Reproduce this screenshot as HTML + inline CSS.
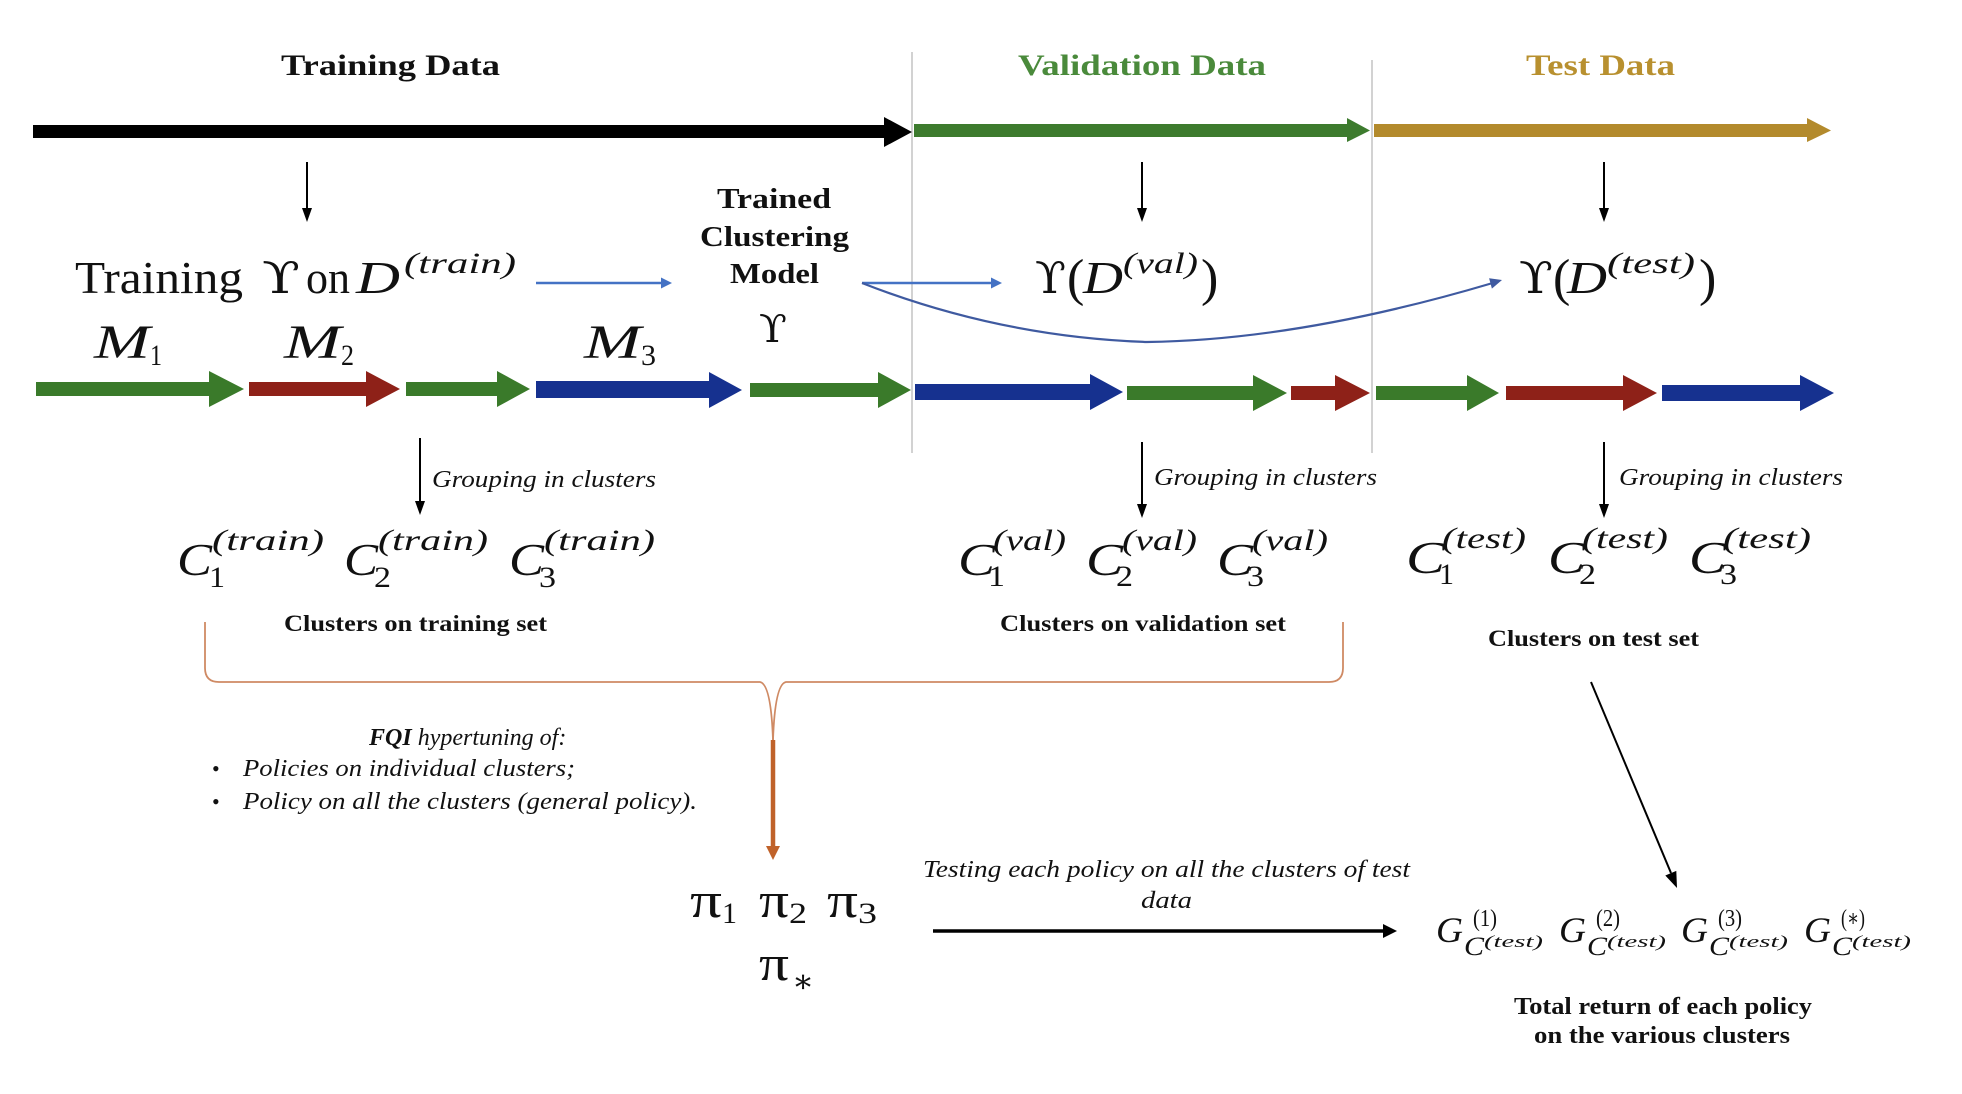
<!DOCTYPE html>
<html><head><meta charset="utf-8"><style>
html,body{margin:0;padding:0;background:#fff;}
svg{display:block}
text{font-family:"Liberation Serif","DejaVu Serif",serif;fill:#111;}
.b{font-weight:bold}
.i{font-style:italic}
.u{font-family:"DejaVu Serif","Liberation Serif",serif;}
</style></head><body>
<svg width="1962" height="1094" viewBox="0 0 1962 1094" xmlns="http://www.w3.org/2000/svg">
<rect width="1962" height="1094" fill="#fff"/>

<!-- dividers -->
<line x1="912" y1="52" x2="912" y2="453" stroke="#c4c4c4" stroke-width="1.5"/>
<line x1="1372" y1="60" x2="1372" y2="453" stroke="#c4c4c4" stroke-width="1.5"/>

<!-- titles -->
<text class="b" x="281" y="75" font-size="30" textLength="219" lengthAdjust="spacingAndGlyphs">Training Data</text>
<text class="b" x="1018" y="75" font-size="30" textLength="248" lengthAdjust="spacingAndGlyphs" style="fill:#4a8a3b">Validation Data</text>
<text class="b" x="1526" y="75" font-size="30" textLength="149" lengthAdjust="spacingAndGlyphs" style="fill:#b8902f">Test Data</text>

<!-- top timeline arrows -->
<polygon points="33,125 884,125 884,117 912,132 884,147 884,138 33,138" fill="#000"/>
<polygon points="914,124 1347,124 1347,118 1370,130.5 1347,142 1347,137 914,137" fill="#3d7b2e"/>
<polygon points="1374,124 1807,124 1807,118 1831,130.5 1807,142 1807,137 1374,137" fill="#b38a2c"/>

<!-- down arrows -->
<g stroke="#000" stroke-width="2">
<line x1="307" y1="162" x2="307" y2="210"/>
<line x1="1142" y1="162" x2="1142" y2="210"/>
<line x1="1604" y1="162" x2="1604" y2="210"/>
<line x1="420" y1="438" x2="420" y2="503"/>
<line x1="1142" y1="442" x2="1142" y2="506"/>
<line x1="1604" y1="442" x2="1604" y2="506"/>
</g>
<g fill="#000">
<polygon points="302,208 312,208 307,222"/>
<polygon points="1137,208 1147,208 1142,222"/>
<polygon points="1599,208 1609,208 1604,222"/>
<polygon points="415,501 425,501 420,515"/>
<polygon points="1137,504 1147,504 1142,518"/>
<polygon points="1599,504 1609,504 1604,518"/>
</g>

<!-- Training Upsilon on D(train) -->
<text x="75" y="293" font-size="46" textLength="168" lengthAdjust="spacingAndGlyphs">Training</text>
<text class="u" x="262" y="293" font-size="44" textLength="38" lengthAdjust="spacingAndGlyphs">ϒ</text>
<text x="306" y="293" font-size="46" textLength="44" lengthAdjust="spacingAndGlyphs">on</text>
<text class="i" x="356" y="293" font-size="46" textLength="44" lengthAdjust="spacingAndGlyphs">D</text>
<text class="i" x="404" y="273" font-size="30" textLength="112" lengthAdjust="spacingAndGlyphs">(train)</text>

<!-- blue arrows -->
<g stroke="#4472c4" stroke-width="2.5" fill="none">
<line x1="536" y1="283" x2="664" y2="283"/>
<line x1="862" y1="283" x2="994" y2="283"/>
</g>
<polygon points="661,277.5 672,283 661,288.5" fill="#4472c4"/>
<polygon points="991,277.5 1002,283 991,288.5" fill="#4472c4"/>
<path d="M862,283 Q1000,337 1147,342 Q1300,340 1491,283.5" stroke="#3f5aa0" stroke-width="2.2" fill="none"/>
<polygon points="1502,280 1491.9,288.6 1489.1,278.2" fill="#3f5aa0"/>

<!-- Trained Clustering Model -->
<text class="b" x="717" y="208" font-size="29" textLength="114" lengthAdjust="spacingAndGlyphs">Trained</text>
<text class="b" x="700" y="246" font-size="29" textLength="149" lengthAdjust="spacingAndGlyphs">Clustering</text>
<text class="b" x="730" y="283" font-size="29" textLength="89" lengthAdjust="spacingAndGlyphs">Model</text>
<text class="u" x="759" y="342" font-size="38" textLength="28" lengthAdjust="spacingAndGlyphs">ϒ</text>

<!-- M labels -->
<text class="i" x="94" y="358" font-size="48" textLength="56" lengthAdjust="spacingAndGlyphs">M</text>
<text x="150" y="365" font-size="30" textLength="12" lengthAdjust="spacingAndGlyphs">1</text>
<text class="i" x="284" y="358" font-size="48" textLength="57" lengthAdjust="spacingAndGlyphs">M</text>
<text x="341" y="365" font-size="30" textLength="13" lengthAdjust="spacingAndGlyphs">2</text>
<text class="i" x="584" y="358" font-size="48" textLength="57" lengthAdjust="spacingAndGlyphs">M</text>
<text x="641" y="365" font-size="30" textLength="15" lengthAdjust="spacingAndGlyphs">3</text>

<!-- Upsilon(D(val)) -->
<text class="u" x="1035" y="293" font-size="44" textLength="31" lengthAdjust="spacingAndGlyphs">ϒ</text>
<text x="1067" y="295" font-size="52">(</text>
<text class="i" x="1083" y="293" font-size="46" textLength="40" lengthAdjust="spacingAndGlyphs">D</text>
<text class="i" x="1123" y="273" font-size="30" textLength="75" lengthAdjust="spacingAndGlyphs">(val)</text>
<text x="1201" y="295" font-size="52">)</text>
<!-- Upsilon(D(test)) -->
<text class="u" x="1519" y="293" font-size="44" textLength="34" lengthAdjust="spacingAndGlyphs">ϒ</text>
<text x="1553" y="295" font-size="52">(</text>
<text class="i" x="1567" y="293" font-size="46" textLength="40" lengthAdjust="spacingAndGlyphs">D</text>
<text class="i" x="1607" y="273" font-size="30" textLength="88" lengthAdjust="spacingAndGlyphs">(test)</text>
<text x="1699" y="295" font-size="52">)</text>

<!-- coloured segment row -->
<g>
<polygon points="36,382 209,382 209,371 244,389 209,407 209,396 36,396" fill="#3a7a2a"/>
<polygon points="249,382 366,382 366,371 400,389 366,407 366,396 249,396" fill="#8e2118"/>
<polygon points="406,382 497,382 497,371 530,389 497,407 497,396 406,396" fill="#3a7a2a"/>
<polygon points="536,381 709,381 709,372 742,390 709,408 709,398 536,398" fill="#16318f"/>
<polygon points="750,383 878,383 878,372 911,390 878,408 878,397 750,397" fill="#3a7a2a"/>
<polygon points="915,384 1090,384 1090,374 1123,392 1090,410 1090,400 915,400" fill="#16318f"/>
<polygon points="1127,386 1253,386 1253,375 1287,393 1253,411 1253,400 1127,400" fill="#3a7a2a"/>
<polygon points="1291,386 1335,386 1335,375 1370,393 1335,411 1335,400 1291,400" fill="#8e2118"/>
<polygon points="1376,386 1467,386 1467,375 1499,393 1467,411 1467,400 1376,400" fill="#3a7a2a"/>
<polygon points="1506,386 1623,386 1623,375 1657,393 1623,411 1623,400 1506,400" fill="#8e2118"/>
<polygon points="1662,385 1800,385 1800,375 1834,393 1800,411 1800,401 1662,401" fill="#16318f"/>
</g>

<!-- Grouping in clusters -->
<text class="i" x="432" y="487" font-size="24" textLength="224" lengthAdjust="spacingAndGlyphs">Grouping in clusters</text>
<text class="i" x="1154" y="485" font-size="24" textLength="223" lengthAdjust="spacingAndGlyphs">Grouping in clusters</text>
<text class="i" x="1619" y="485" font-size="24" textLength="224" lengthAdjust="spacingAndGlyphs">Grouping in clusters</text>

<!-- C train -->
<g>
<text class="i" x="177" y="575" font-size="46" textLength="35" lengthAdjust="spacingAndGlyphs">C</text>
<text class="i" x="212" y="550" font-size="30" textLength="112" lengthAdjust="spacingAndGlyphs">(train)</text>
<text x="209" y="587" font-size="30" textLength="16" lengthAdjust="spacingAndGlyphs">1</text>
<text class="i" x="344" y="575" font-size="46" textLength="34" lengthAdjust="spacingAndGlyphs">C</text>
<text class="i" x="378" y="550" font-size="30" textLength="110" lengthAdjust="spacingAndGlyphs">(train)</text>
<text x="374" y="587" font-size="30" textLength="17" lengthAdjust="spacingAndGlyphs">2</text>
<text class="i" x="509" y="575" font-size="46" textLength="35" lengthAdjust="spacingAndGlyphs">C</text>
<text class="i" x="544" y="550" font-size="30" textLength="111" lengthAdjust="spacingAndGlyphs">(train)</text>
<text x="539" y="587" font-size="30" textLength="17" lengthAdjust="spacingAndGlyphs">3</text>
</g>
<!-- C val -->
<g>
<text class="i" x="958" y="575" font-size="46" textLength="37" lengthAdjust="spacingAndGlyphs">C</text>
<text class="i" x="993" y="550" font-size="30" textLength="73" lengthAdjust="spacingAndGlyphs">(val)</text>
<text x="988" y="586" font-size="30" textLength="17" lengthAdjust="spacingAndGlyphs">1</text>
<text class="i" x="1086" y="575" font-size="46" textLength="37" lengthAdjust="spacingAndGlyphs">C</text>
<text class="i" x="1122" y="550" font-size="30" textLength="75" lengthAdjust="spacingAndGlyphs">(val)</text>
<text x="1116" y="586" font-size="30" textLength="17" lengthAdjust="spacingAndGlyphs">2</text>
<text class="i" x="1217" y="575" font-size="46" textLength="36" lengthAdjust="spacingAndGlyphs">C</text>
<text class="i" x="1252" y="550" font-size="30" textLength="76" lengthAdjust="spacingAndGlyphs">(val)</text>
<text x="1247" y="586" font-size="30" textLength="17" lengthAdjust="spacingAndGlyphs">3</text>
</g>
<!-- C test -->
<g>
<text class="i" x="1406" y="573" font-size="46" textLength="39" lengthAdjust="spacingAndGlyphs">C</text>
<text class="i" x="1442" y="548" font-size="30" textLength="84" lengthAdjust="spacingAndGlyphs">(test)</text>
<text x="1439" y="584" font-size="30" textLength="15" lengthAdjust="spacingAndGlyphs">1</text>
<text class="i" x="1548" y="573" font-size="46" textLength="37" lengthAdjust="spacingAndGlyphs">C</text>
<text class="i" x="1582" y="548" font-size="30" textLength="86" lengthAdjust="spacingAndGlyphs">(test)</text>
<text x="1579" y="584" font-size="30" textLength="17" lengthAdjust="spacingAndGlyphs">2</text>
<text class="i" x="1689" y="573" font-size="46" textLength="37" lengthAdjust="spacingAndGlyphs">C</text>
<text class="i" x="1723" y="548" font-size="30" textLength="88" lengthAdjust="spacingAndGlyphs">(test)</text>
<text x="1720" y="584" font-size="30" textLength="17" lengthAdjust="spacingAndGlyphs">3</text>
</g>

<!-- cluster labels -->
<text class="b" x="284" y="631" font-size="23" textLength="263" lengthAdjust="spacingAndGlyphs">Clusters on training set</text>
<text class="b" x="1000" y="631" font-size="23" textLength="286" lengthAdjust="spacingAndGlyphs">Clusters on validation set</text>
<text class="b" x="1488" y="646" font-size="23" textLength="211" lengthAdjust="spacingAndGlyphs">Clusters on test set</text>

<!-- orange bracket -->
<path d="M205,622 L205,668 Q205,682 219,682 L760,682 Q771,684 773,740" stroke="#cf8a64" stroke-width="1.8" fill="none"/>
<path d="M1343,622 L1343,668 Q1343,682 1329,682 L786,682 Q775,684 773,740" stroke="#cf8a64" stroke-width="1.8" fill="none"/>
<line x1="773" y1="740" x2="773" y2="848" stroke="#c0622a" stroke-width="4.5"/>
<polygon points="766,846 780,846 773,860" fill="#c0622a"/>

<!-- FQI text -->
<text x="369" y="745" font-size="24"><tspan class="b i">FQI</tspan><tspan class="i"> hypertuning of:</tspan></text>
<text x="212" y="776" font-size="22">•</text>
<text class="i" x="243" y="776" font-size="24" textLength="332" lengthAdjust="spacingAndGlyphs">Policies on individual clusters;</text>
<text x="212" y="809" font-size="22">•</text>
<text class="i" x="243" y="809" font-size="24" textLength="454" lengthAdjust="spacingAndGlyphs">Policy on all the clusters (general policy).</text>

<!-- pi's -->
<text x="690" y="917" font-size="50" textLength="32" lengthAdjust="spacingAndGlyphs">π</text>
<text x="722" y="923" font-size="30" textLength="15" lengthAdjust="spacingAndGlyphs">1</text>
<text x="759" y="917" font-size="50" textLength="30" lengthAdjust="spacingAndGlyphs">π</text>
<text x="789" y="923" font-size="30" textLength="18" lengthAdjust="spacingAndGlyphs">2</text>
<text x="827" y="917" font-size="50" textLength="31" lengthAdjust="spacingAndGlyphs">π</text>
<text x="858" y="923" font-size="30" textLength="19" lengthAdjust="spacingAndGlyphs">3</text>
<text x="759" y="980" font-size="50" textLength="30" lengthAdjust="spacingAndGlyphs">π</text>
<text x="792" y="992" font-size="32" textLength="22" lengthAdjust="spacingAndGlyphs">∗</text>

<!-- testing arrow -->
<text class="i" x="923" y="877" font-size="24" textLength="487" lengthAdjust="spacingAndGlyphs">Testing each policy on all the clusters of test</text>
<text class="i" x="1141" y="908" font-size="24" textLength="51" lengthAdjust="spacingAndGlyphs">data</text>
<line x1="933" y1="931" x2="1385" y2="931" stroke="#000" stroke-width="3.5"/>
<polygon points="1383,924 1397,931 1383,938" fill="#000"/>

<!-- diagonal arrow -->
<line x1="1591" y1="682" x2="1671" y2="873" stroke="#000" stroke-width="2"/>
<polygon points="1677,888 1676.3,870.9 1665.3,875.5" fill="#000"/>

<!-- G's -->
<g>
<text class="i" x="1436" y="942" font-size="36" textLength="27" lengthAdjust="spacingAndGlyphs">G</text>
<text x="1473" y="926" font-size="24" textLength="24" lengthAdjust="spacingAndGlyphs">(1)</text>
<text class="i" x="1464" y="955" font-size="26" textLength="20" lengthAdjust="spacingAndGlyphs">C</text>
<text class="i" x="1484" y="947" font-size="17" textLength="59" lengthAdjust="spacingAndGlyphs">(test)</text>

<text class="i" x="1559" y="942" font-size="36" textLength="27" lengthAdjust="spacingAndGlyphs">G</text>
<text x="1596" y="926" font-size="24" textLength="24" lengthAdjust="spacingAndGlyphs">(2)</text>
<text class="i" x="1587" y="955" font-size="26" textLength="20" lengthAdjust="spacingAndGlyphs">C</text>
<text class="i" x="1607" y="947" font-size="17" textLength="59" lengthAdjust="spacingAndGlyphs">(test)</text>

<text class="i" x="1681" y="942" font-size="36" textLength="27" lengthAdjust="spacingAndGlyphs">G</text>
<text x="1718" y="926" font-size="24" textLength="24" lengthAdjust="spacingAndGlyphs">(3)</text>
<text class="i" x="1709" y="955" font-size="26" textLength="20" lengthAdjust="spacingAndGlyphs">C</text>
<text class="i" x="1729" y="947" font-size="17" textLength="59" lengthAdjust="spacingAndGlyphs">(test)</text>

<text class="i" x="1804" y="942" font-size="36" textLength="27" lengthAdjust="spacingAndGlyphs">G</text>
<text x="1841" y="926" font-size="24" textLength="24" lengthAdjust="spacingAndGlyphs">(∗)</text>
<text class="i" x="1832" y="955" font-size="26" textLength="20" lengthAdjust="spacingAndGlyphs">C</text>
<text class="i" x="1852" y="947" font-size="17" textLength="59" lengthAdjust="spacingAndGlyphs">(test)</text>
</g>

<!-- total return -->
<text class="b" x="1514" y="1014" font-size="24" textLength="298" lengthAdjust="spacingAndGlyphs">Total return of each policy</text>
<text class="b" x="1534" y="1043" font-size="24" textLength="256" lengthAdjust="spacingAndGlyphs">on the various clusters</text>
</svg>
</body></html>
